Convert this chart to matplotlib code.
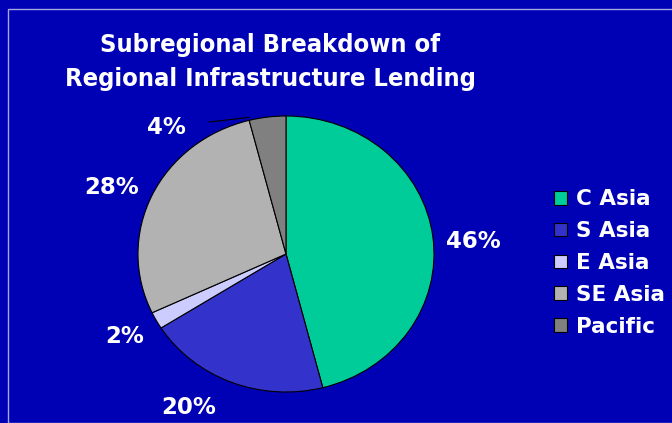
import matplotlib
matplotlib.use("Agg")
import matplotlib.pyplot as plt
import numpy as np
from matplotlib.patches import Rectangle

categories = ["C Asia", "S Asia", "E Asia", "SE Asia", "Pacific"]
values = [46, 20, 2, 28, 4]
labels = ["46%", "20%", "2%", "28%", "4%"]
colors = ["#00CC99", "#3333CC", "#CCCCFF", "#B2B2B2", "#808080"]
title = "Subregional Breakdown of\nRegional Infrastructure Lending"

W, H = 672, 423
bg = "#0000B4"
fig = plt.figure(figsize=(W / 100, H / 100), dpi=100, facecolor=bg)
plt.rcParams['font.family'] = ['DejaVu Sans']

# frame
fig.patches.append(Rectangle((8 / W, 0), 1, 1 - 9 / H, transform=fig.transFigure,
                             fill=False, edgecolor="#A8A8E0", linewidth=1))

fig.text(270 / W, 1 - 62 / H, title, ha="center", va="center", color="white",
         fontsize=18.3, fontweight="bold", fontstretch="condensed",
         linespacing=1.5)

ax = fig.add_axes([138 / W, (H - 392) / H, 296 / W, 276 / H])
ax.set_facecolor(bg)
wedges, _ = ax.pie(values, colors=colors, startangle=90, counterclock=False,
                   wedgeprops=dict(edgecolor="black", linewidth=0.8))
ax.set_aspect("auto")
ax.set_xlim(-1, 1)
ax.set_ylim(-1, 1)

label_r = [1.27, 1.29, 1.24, 1.27, None]
label_shift = [-3, -9, 0, 3, 0]
for w, lab, r, s in zip(wedges, labels, label_r, label_shift):
    mid = np.deg2rad((w.theta1 + w.theta2) / 2 + s)
    if r is not None:
        ax.text(r * np.cos(mid), r * np.sin(mid), lab, ha="center", va="center",
                color="white", fontsize=16.5, fontweight="bold", clip_on=False)
    else:
        ex = 0.95 * np.cos(mid) - 0.13
        ey = 0.99
        ax.annotate(lab, xy=(ex, ey), xytext=(-0.81, 0.92), ha="center", va="center",
                    color="white", fontsize=16.5, fontweight="bold",
                    arrowprops=dict(arrowstyle="-", color="black", lw=0.8,
                                    shrinkA=15, shrinkB=0), annotation_clip=False)

leg = fig.legend(wedges, categories, loc="upper left",
                 bbox_to_anchor=(535 / W, 1 - 170 / H), frameon=False,
                 labelcolor="white", prop=dict(size=15.5, weight="bold"),
                 handlelength=0.6, handleheight=0.6, handletextpad=0.4,
                 labelspacing=0.55)

fig.savefig("out.png", dpi=100, facecolor=bg)
